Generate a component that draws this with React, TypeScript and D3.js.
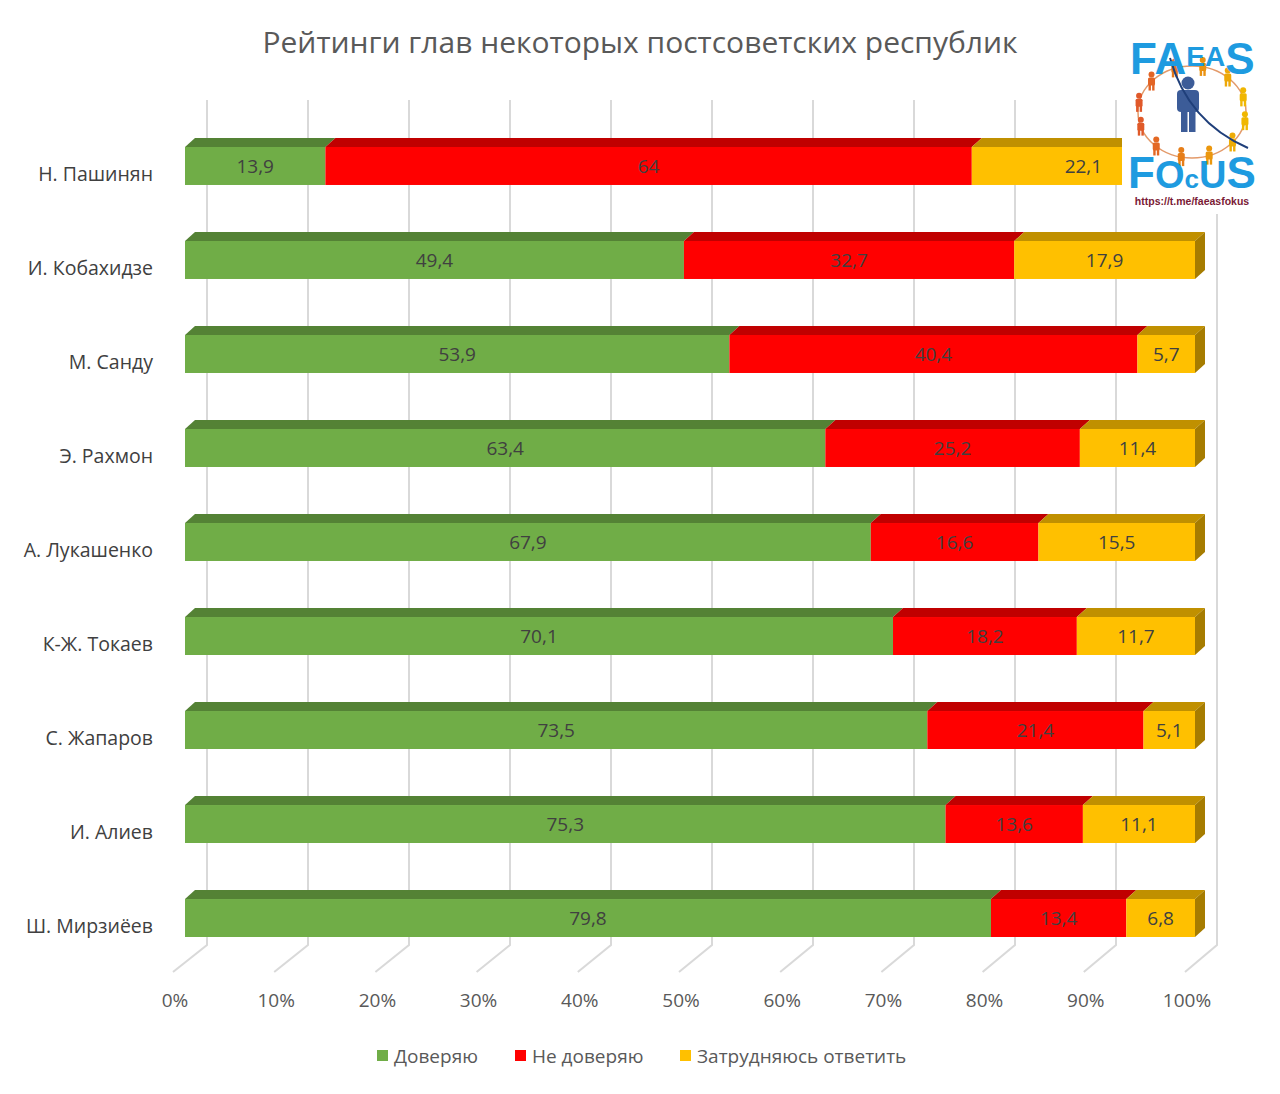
import React from "react";
import * as d3 from "d3";

const names = ["Н. Пашинян", "И. Кобахидзе", "М. Санду", "Э. Рахмон", "А. Лукашенко", "К-Ж. Токаев", "С. Жапаров", "И. Алиев", "Ш. Мирзиёев"];
const trust = [13.9, 49.4, 53.9, 63.4, 67.9, 70.1, 73.5, 75.3, 79.8];
const distrust = [64, 32.7, 40.4, 25.2, 16.6, 18.2, 21.4, 13.6, 13.4];
const undecided = [22.1, 17.9, 5.7, 11.4, 15.5, 11.7, 5.1, 11.1, 6.8];
const seriesNames = ["Доверяю", "Не доверяю", "Затрудняюсь ответить"];
const ticks = [0, 10, 20, 30, 40, 50, 60, 70, 80, 90, 100];

const front = ["#70AD47", "#FF0000", "#FFC000"];
const top = ["#548235", "#C00000", "#C09000"];
const side = ["#4E7A2F", "#A00000", "#A67C00"];

const FONT = "'Open Sans', 'Liberation Sans', sans-serif";
const LOGO_FONT = "'Liberation Sans', sans-serif";

export default function App() {
  const W = 1280, H = 1094;
  const x = d3.scaleLinear().domain([0, 100]).range([185, 1195]);
  const y = d3.scaleBand().domain(names).range([147, 937]).paddingInner(0.596).paddingOuter(0);
  const DX = 10, DY = -9;
  const backX = d3.scaleLinear().domain([0, 100]).range([207, 1217]);
  const floorX = d3.scaleLinear().domain([0, 100]).range([173, 1185]);
  const series = [trust, distrust, undecided];

  const logoPeople = d3.range(12).map((i) => {
    const a = (i / 12) * Math.PI * 2 + 0.2;
    return { cx: 1192 + 54 * Math.cos(a), cy: 112 + 46 * Math.sin(a), c: d3.interpolateRgb("#E0582A", "#F0B800")((Math.cos(a) + 1) / 2) };
  });

  return (
    <svg width={W} height={H} style={{ display: "block", position: "absolute", left: 0, top: 0, background: "#fff" }}>
      <rect width={W} height={H} fill="#fff" />
      <text x={640} y={53} textAnchor="middle" fontFamily={FONT} fontSize={30} fill="#595959">
        Рейтинги глав некоторых постсоветских республик
      </text>
      {/* back wall gridlines + floor */}
      {ticks.map((t) => (
        <g key={t} stroke="#D9D9D9" strokeWidth={2} fill="none">
          <polyline points={`${backX(t)},100 ${backX(t)},945 ${floorX(t)},972`} />
        </g>
      ))}
      {ticks.map((t) => (
        <text key={"l" + t} x={floorX(t) + 2} y={1007} textAnchor="middle" fontFamily={FONT} fontSize={19} fill="#595959">
          {t}%
        </text>
      ))}
      {/* bars */}
      {names.map((n, i) => {
        const y0 = y(n)!;
        const bh = y.bandwidth();
        let acc = 0;
        const segs = series.map((s, k) => {
          const a = acc;
          acc += s[i];
          return { k, a, b: acc, v: s[i] };
        });
        return (
          <g key={n}>
            <text x={153} y={y0 + bh / 2 + 15} textAnchor="end" fontFamily={FONT} fontSize={19.5} fill="#404040">
              {n}
            </text>
            {segs.map((s) => {
              const x0 = x(s.a), x1 = x(Math.min(s.b, 100));
              return (
                <g key={s.k}>
                  <polygon points={`${x0},${y0} ${x0 + DX},${y0 + DY} ${x1 + DX},${y0 + DY} ${x1},${y0}`} fill={top[s.k]} />
                  <rect x={x0} y={y0} width={x1 - x0} height={bh} fill={front[s.k]} />
                  {s.k === 2 && (
                    <polygon points={`${x1},${y0} ${x1 + DX},${y0 + DY} ${x1 + DX},${y0 + bh + DY} ${x1},${y0 + bh}`} fill={side[s.k]} />
                  )}
                  <text x={(x0 + x1) / 2} y={y0 + bh / 2 + 7} textAnchor="middle" fontFamily={FONT} fontSize={19} fill="#404040">
                    {String(s.v).replace(".", ",")}
                  </text>
                </g>
              );
            })}
          </g>
        );
      })}
      {/* legend */}
      {seriesNames.map((s, k) => {
        const lx = [377, 515, 680][k];
        return (
          <g key={s}>
            <rect x={lx} y={1050} width={11} height={11} fill={front[k]} />
            <text x={lx + 17} y={1063} fontFamily={FONT} fontSize={19} fill="#595959">
              {s}
            </text>
          </g>
        );
      })}
      {/* logo */}
      <g>
        <rect x={1122} y={28} width={145} height={186} fill="#fff" />
        <ellipse cx={1192} cy={112} rx={54} ry={46} fill="none" stroke="#E39A6A" strokeWidth={1.5} />
        {logoPeople.map((p, i) => (
          <g key={i} fill={p.c}>
            <circle cx={p.cx} cy={p.cy - 7} r={3} />
            <rect x={p.cx - 3.5} y={p.cy - 4} width={7} height={8} rx={1.5} />
            <rect x={p.cx - 3} y={p.cy + 3} width={2.4} height={6} />
            <rect x={p.cx + 0.6} y={p.cy + 3} width={2.4} height={6} />
          </g>
        ))}
        <g fill="#3C5C98">
          <circle cx={1188} cy={83} r={6.5} />
          <rect x={1177} y={90} width={22} height={22} rx={4} />
          <rect x={1181} y={108} width={6.5} height={24} />
          <rect x={1189} y={108} width={6.5} height={24} />
        </g>
        <path d="M1170,58 Q1188,122 1248,148" fill="none" stroke="#1F3F7A" strokeWidth={2} />
        <text x={1130} y={74} fontFamily={LOGO_FONT} fontWeight="bold" fontSize={44} fill="#1E9BE0">
          <tspan>FA</tspan>
          <tspan fontSize={28} dy={-8}>EA</tspan>
          <tspan dy={8}>S</tspan>
        </text>
        <text x={1128} y={188} fontFamily={LOGO_FONT} fontWeight="bold" fontSize={44} fill="#1E9BE0">
          <tspan>F</tspan>
          <tspan fontSize={38}>O</tspan>
          <tspan fontSize={26}>c</tspan>
          <tspan fontSize={38}>U</tspan>
          <tspan>S</tspan>
        </text>
        <text x={1192} y={205} textAnchor="middle" fontFamily={LOGO_FONT} fontWeight="bold" fontSize={10.5} fill="#7A1A35">
          https://t.me/faeasfokus
        </text>
      </g>
    </svg>
  );
}
